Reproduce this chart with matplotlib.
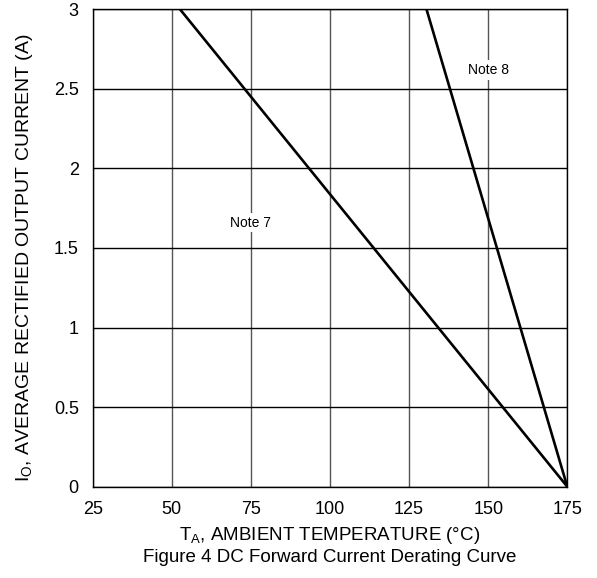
import matplotlib
matplotlib.use('Agg')
import matplotlib.pyplot as plt

plt.rcParams['font.family'] = ['Liberation Sans', 'DejaVu Sans']
plt.rcParams['mathtext.fontset'] = 'custom'
plt.rcParams['mathtext.rm'] = 'Liberation Sans'
plt.rcParams['mathtext.it'] = 'Liberation Sans'

# derating lines: (temperature, current)
note7_temp = [52.6, 175]
note7_current = [3.0, 0.0]
note8_temp = [130.5, 175]
note8_current = [3.0, 0.0]

x_ticks = [25, 50, 75, 100, 125, 150, 175]
y_ticks = [0, 0.5, 1, 1.5, 2, 2.5, 3]
y_tick_labels = ['0', '0.5', '1', '1.5', '2', '2.5', '3']

W, H = 597, 578
fig = plt.figure(figsize=(W / 100, H / 100), dpi=100)
ax = fig.add_axes([92.7 / W, 1 - 486.7 / H, 474.6 / W, 477.4 / H])

for x in x_ticks:
    ax.axvline(x, color='#555555', lw=1.0, zorder=1)
for y in y_ticks:
    ax.axhline(y, color='black', lw=1.0, zorder=1)

ax.plot(note7_temp, note7_current, color='black', lw=1.9, zorder=3)
ax.plot(note8_temp, note8_current, color='black', lw=1.9, zorder=3)

ax.text(75, 1.66, 'Note 7', ha='center', va='center', fontsize=10,
        bbox=dict(facecolor='white', edgecolor='none', pad=2), zorder=4)
ax.text(150, 2.62, 'Note 8', ha='center', va='center', fontsize=10,
        bbox=dict(facecolor='white', edgecolor='none', pad=2), zorder=4)

ax.set_xlim(25, 175)
ax.set_ylim(0, 3)
ax.set_xticks(x_ticks)
ax.set_yticks(y_ticks)
ax.set_yticklabels(y_tick_labels)
ax.tick_params(length=0, labelsize=13)
ax.tick_params(axis='x', pad=10)
ax.tick_params(axis='y', pad=10)
for s in ax.spines.values():
    s.set_linewidth(1.0)

ax.set_ylabel('I$_{\\mathrm{O}}$, AVERAGE RECTIFIED OUTPUT CURRENT (A)', fontsize=14)
ax.yaxis.set_label_coords(-0.122, 0.48)

fig.text(330 / W, 1 - 535 / H, 'T$_{\\mathrm{A}}$, AMBIENT TEMPERATURE (°C)',
         ha='center', va='center', fontsize=13.5)
fig.text(330 / W, 1 - 558 / H, 'Figure 4 DC Forward Current Derating Curve',
         ha='center', va='center', fontsize=13.5)

fig.savefig('out.png', dpi=100)
